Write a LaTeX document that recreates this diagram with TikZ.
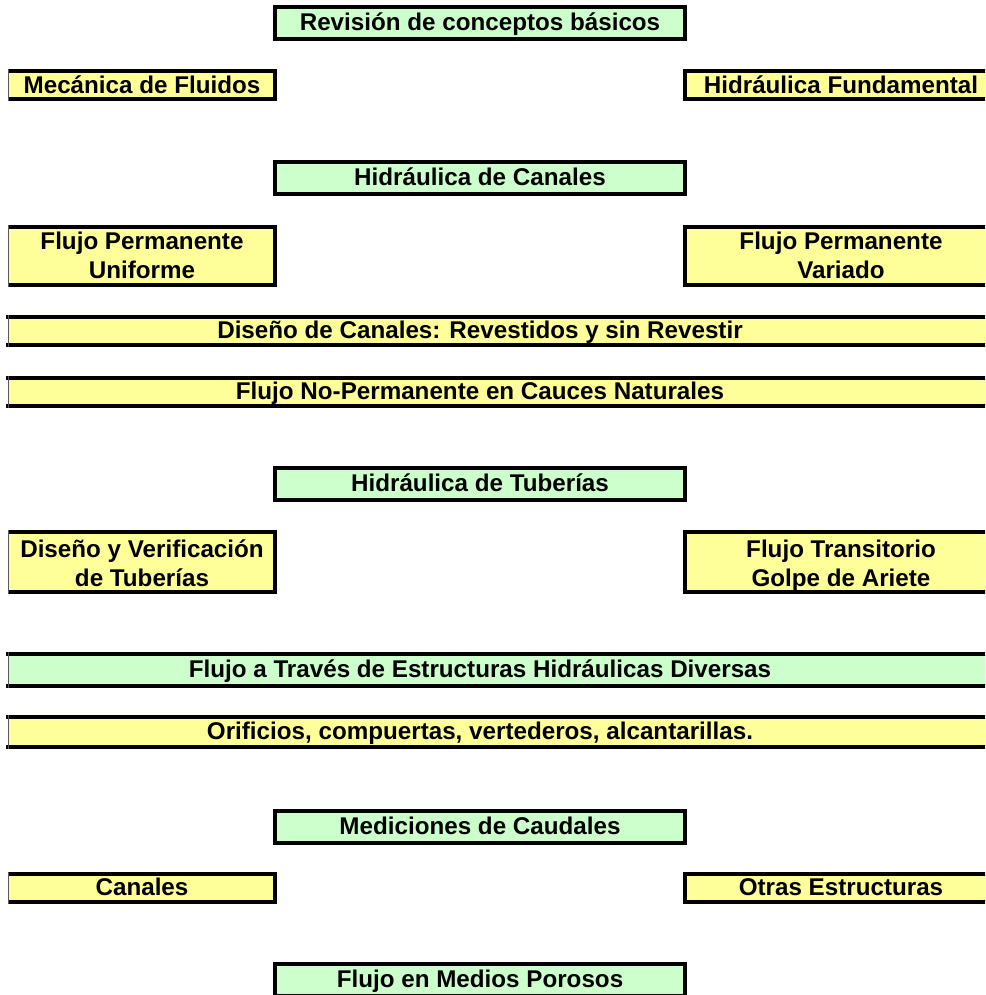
\documentclass[tikz,border=0pt]{standalone}
\usepackage{fontspec}
\setmainfont{Liberation Sans}
\definecolor{cellgreen}{HTML}{CCFFCC}
\definecolor{cellyellow}{HTML}{FFFF99}
\tikzset{
  bline/.style={draw=black,line width=3.6pt,line cap=rect},
  tline/.style={draw=black!65,line width=1.4pt},
  txt/.style={font=\bfseries\fontsize{24.2}{29}\selectfont,align=center,inner sep=0pt,text=black},
}
% a text line with fixed cap height and no depth
\newcommand\cl[1]{\raisebox{0pt}[17.4pt][0pt]{#1}}
% box with thin left border
\newcommand\boxthin[5]{%
  \fill[#5] (#1,#2) rectangle (#3,#4);
  \draw[bline,line cap=butt] (#1,{#2+1.8}) -- ({#3-1.8},{#2+1.8}) -- ({#3-1.8},{#4-1.8}) -- (#1,{#4-1.8});
  \draw[tline] ({#1+0.7},#2) -- ({#1+0.7},#4);
}
\begin{document}
\begin{tikzpicture}[x=1pt,y=-1pt]
\useasboundingbox (0,0) rectangle (985,995);
\clip (0,0) rectangle (985,995);
\fill[white] (0,0) rectangle (985,995);

\fill[cellgreen] (273,5) rectangle (687,41);
\draw[bline] (274.8,6.8) rectangle (685.2,39.2);
\node[txt] (rev) at (480,22) {\cl{Revisión de conceptos básicos}};

\boxthin{8}{69}{277}{101}{cellyellow}
\node[txt] (mec) at (142,84.5) {\cl{Mecánica de Fluidos}};

\fill[cellyellow] (683,69) rectangle (999,101);
\draw[bline] (684.8,70.8) rectangle (1001,99.2);
\node[txt] (hfu) at (841,84.5) {\cl{Hidráulica Fundamental}};

\fill[cellgreen] (273,160) rectangle (687,196);
\draw[bline] (274.8,161.8) rectangle (685.2,194.2);
\node[txt] (hca) at (480,177) {\cl{Hidráulica de Canales}};

\boxthin{8}{225}{277}{287}{cellyellow}
\node[txt] (fpu) at (142,255.5) {\cl{Flujo Permanente}\\\cl{Uniforme}};

\fill[cellyellow] (683,225) rectangle (999,287);
\draw[bline] (684.8,226.8) rectangle (1001,285.2);
\node[txt] (fpv) at (841,255.5) {\cl{Flujo Permanente}\\\cl{Variado}};

\fill[cellyellow] (8,315) rectangle (1000,347);
\draw[bline] (8,316.8) -- (1000,316.8);
\draw[bline] (8,345.2) -- (1000,345.2);
\draw[tline] (8.7,315) -- (8.7,347);
\node[txt] (dis) at (480,330) {\cl{Diseño de Canales: Revestidos y sin Revestir}};

\fill[cellyellow] (8,376) rectangle (1000,408);
\draw[bline] (8,377.8) -- (1000,377.8);
\draw[bline] (8,406.2) -- (1000,406.2);
\draw[tline] (8.7,376) -- (8.7,408);
\node[txt] (fnp) at (480,391) {\cl{Flujo No-Permanente en Cauces Naturales}};

\fill[cellgreen] (273,466) rectangle (687,502);
\draw[bline] (274.8,467.8) rectangle (685.2,500.2);
\node[txt] (htu) at (480,483) {\cl{Hidráulica de Tuberías}};

\boxthin{8}{530}{277}{594}{cellyellow}
\node[txt] (dvt) at (142,563) {\cl{Diseño y Verificación}\\\cl{de Tuberías}};

\fill[cellyellow] (683,530) rectangle (999,594);
\draw[bline] (684.8,531.8) rectangle (1001,592.2);
\node[txt] (ftg) at (841,563) {\cl{Flujo Transitorio}\\\cl{Golpe de Ariete}};

\fill[cellgreen] (8,652) rectangle (1000,688);
\draw[bline] (8,653.8) -- (1000,653.8);
\draw[bline] (8,686.2) -- (1000,686.2);
\draw[tline] (8.7,652) -- (8.7,688);
\node[txt] (fte) at (480,669) {\cl{Flujo a Través de Estructuras Hidráulicas Diversas}};

\fill[cellyellow] (8,715) rectangle (1000,749);
\draw[bline] (8,716.8) -- (1000,716.8);
\draw[bline] (8,747.2) -- (1000,747.2);
\draw[tline] (8.7,715) -- (8.7,749);
\node[txt] (ori) at (480,731) {\cl{Orificios, compuertas, vertederos, alcantarillas.}};

\fill[cellgreen] (273,809) rectangle (687,845);
\draw[bline] (274.8,810.8) rectangle (685.2,843.2);
\node[txt] (med) at (480,826) {\cl{Mediciones de Caudales}};

\boxthin{8}{872}{277}{904}{cellyellow}
\node[txt] (can) at (142,887) {\cl{Canales}};

\fill[cellyellow] (683,872) rectangle (999,904);
\draw[bline] (684.8,873.8) rectangle (1001,902.2);
\node[txt] (otr) at (841,887) {\cl{Otras Estructuras}};

\fill[cellgreen] (273,962) rectangle (687,998);
\draw[bline] (274.8,963.8) rectangle (685.2,996.2);
\node[txt] (fmp) at (480,978.5) {\cl{Flujo en Medios Porosos}};
\end{tikzpicture}
\end{document}
